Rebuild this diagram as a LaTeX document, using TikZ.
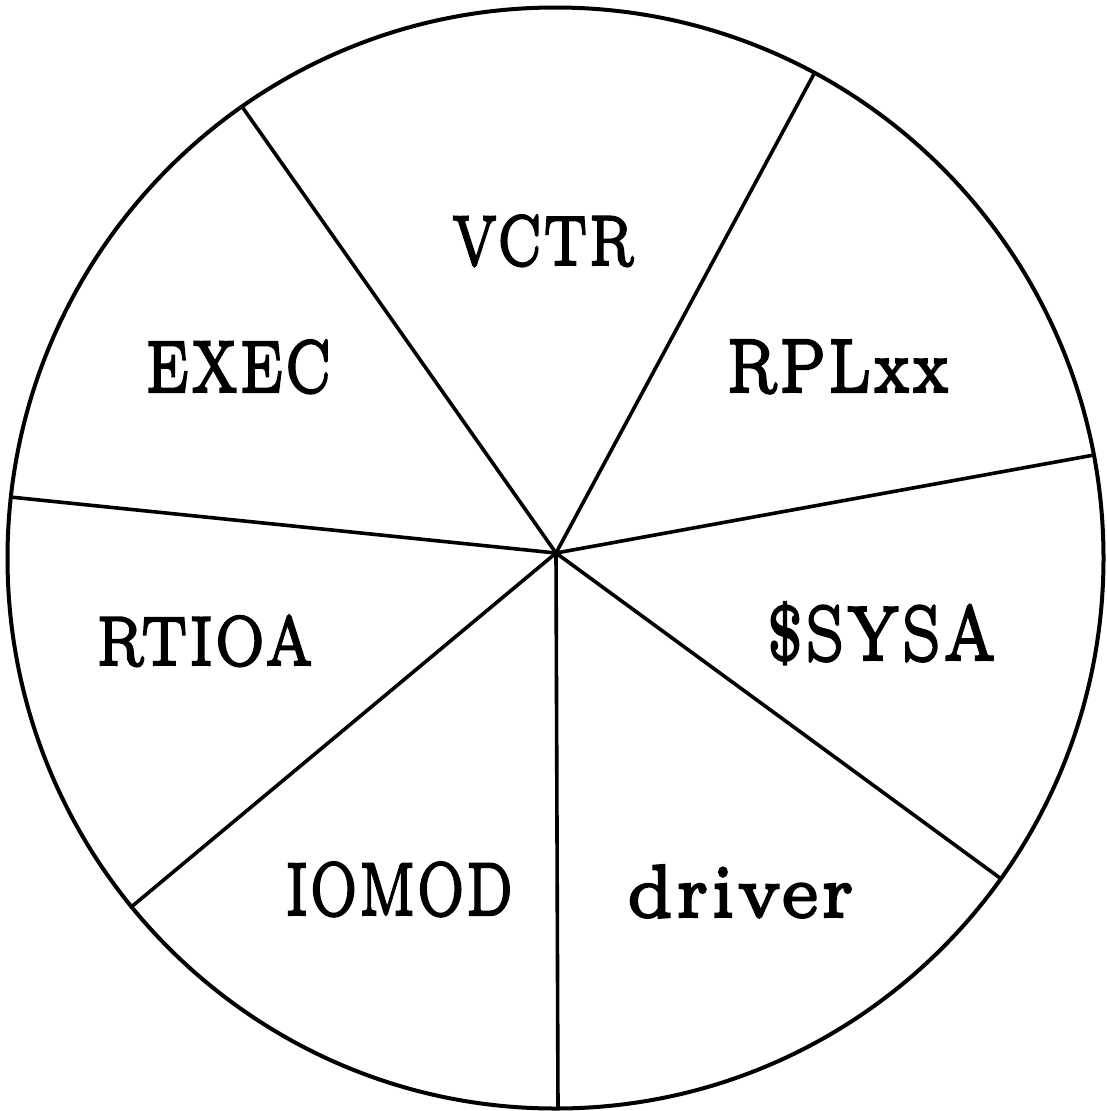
\documentclass[tikz,border=0pt]{standalone}
\usepackage{fontspec}
\usepackage{graphicx}
\newfontfamily\pielabelfont{lmroman5-regular.otf}
\newcommand{\heavytext}[1]{\special{pdf:literal 2 Tr 1.8 w}#1\special{pdf:literal 0 Tr}}
\begin{document}
\begin{tikzpicture}[x=1pt,y=-1pt,
  rim/.style={line width=4pt},
  spoke/.style={line width=3.6pt},
  lbl/.style={anchor=base,inner sep=0pt,font=\pielabelfont\fontsize{60}{66}\selectfont}]
\useasboundingbox (0,0) rectangle (1107,1111);
% outer circle
\draw[rim] (555.5,558) ellipse [x radius=548, y radius=550.5];
% hub and rim points
\coordinate (hub) at (556,553);
\coordinate (p1) at (243,108);
\coordinate (p2) at (815,72);
\coordinate (p3) at (1094,455);
\coordinate (p4) at (1000,878);
\coordinate (p5) at (558,1109);
\coordinate (p6) at (130,908);
\coordinate (p7) at (10,497);
\foreach \p in {p1,p2,p3,p4,p5,p6,p7} \draw[spoke] (hub) -- (\p);
% labels
\node[lbl] (vctr)  at (543,265) {\resizebox{184pt}{50pt}{\heavytext{VCTR}}};
\node[lbl] (exec)  at (238.5,392) {\resizebox{187pt}{52pt}{\heavytext{EXEC}}};
\node[lbl] (rpl)   at (838,392) {\resizebox{224pt}{52pt}{\heavytext{RPLxx}}};
\node[lbl] (rtioa) at (205,665) {\resizebox{218pt}{50pt}{\heavytext{RTIOA}}};
\node[lbl] (sysa)  at (881.5,660) {\resizebox{231pt}{58pt}{\heavytext{\$SYSA}}};
\node[lbl] (iomod) at (399.5,915) {\resizebox{229pt}{53pt}{\heavytext{IOMOD}}};
\node[lbl] (drv)   at (740.5,917) {\resizebox{229pt}{52pt}{\heavytext{driver}}};
\end{tikzpicture}
\end{document}
